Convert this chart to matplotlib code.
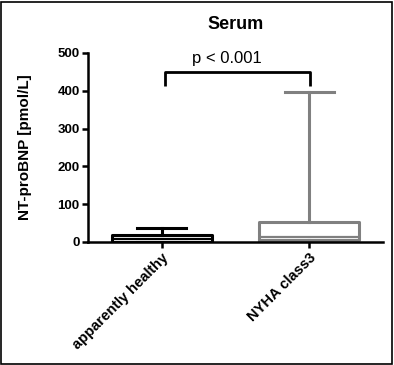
import matplotlib
matplotlib.use("Agg")
import matplotlib.pyplot as plt
from matplotlib.patches import Rectangle

plt.rcParams['font.family'] = ['Liberation Sans', 'DejaVu Sans']

# groupes et statistiques
groupes = ['apparently healthy', 'NYHA class3']
q1 = [1, 6]
mediane = [7, 13]
q3 = [18, 53]
mini = [0, 1]
maxi = [37, 398]
couleurs = ['black', '#808080']

stats = []
for i in range(len(groupes)):
    stats.append(dict(label=groupes[i], q1=q1[i], med=mediane[i], q3=q3[i],
                      whislo=mini[i], whishi=maxi[i], fliers=[]))

fig = plt.figure(figsize=(3.94, 3.65), dpi=100)
ax = fig.add_axes([0.2234, 0.337, 0.7486, 0.5178])

for i in range(len(groupes)):
    c = couleurs[i]
    ax.bxp([stats[i]], positions=[i + 1], widths=0.675, showfliers=False,
           boxprops=dict(color=c, linewidth=2.2),
           medianprops=dict(color=c, linewidth=1.6),
           whiskerprops=dict(color=c, linewidth=2.2),
           capprops=dict(color=c, linewidth=2.2),
           capwidths=0.33)

ax.set_xlim(0.5, 2.5)
ax.set_ylim(0, 500)
ax.set_yticks([0, 100, 200, 300, 400, 500])
ax.set_xticks([1, 2])
ax.set_xticklabels(groupes, rotation=45, ha='right', rotation_mode='anchor',
                   fontsize=10.5, fontweight='bold')
for lab in ax.get_yticklabels():
    lab.set_fontsize(9.5)
    lab.set_fontweight('bold')

ax.spines['top'].set_visible(False)
ax.spines['right'].set_visible(False)
ax.spines['left'].set_linewidth(1.8)
ax.spines['bottom'].set_linewidth(1.8)
ax.tick_params(width=1.8, length=4, pad=2)

ax.set_ylabel('NT-proBNP [pmol/L]', fontsize=11, fontweight='bold', labelpad=18)
ax.set_title('Serum', fontsize=13, fontweight='bold', pad=17)

# crochet de significativite
ax.plot([1.02, 1.02, 2.005, 2.005], [412, 450, 450, 412], color='black',
        linewidth=2, clip_on=False, solid_capstyle='butt')
ax.text(1.44, 466, 'p < 0.001', ha='center', va='bottom', fontsize=12)

# cadre autour de la figure
fig.patches.append(Rectangle((0.003, 0.004), 0.991, 0.99, transform=fig.transFigure,
                             fill=False, edgecolor='black', linewidth=1.2))

fig.savefig('out.png', dpi=100)
